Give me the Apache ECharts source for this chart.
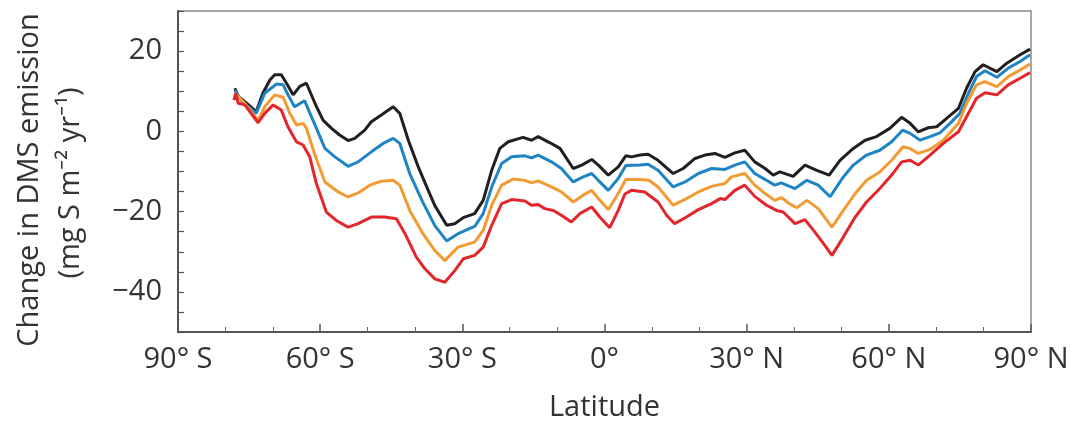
<!DOCTYPE html>
<html>
<head>
<meta charset="utf-8">
<script src="https://cdn.jsdelivr.net/npm/echarts@6/dist/echarts.min.js"></script>
<style>
  html, body { margin: 0; padding: 0; background: #fff; }
  #chart { width: 1071px; height: 422px; }
</style>
</head>
<body>
<div id="chart"></div>
<script>
// latitude (deg, negative = south) and change in DMS emission
const latBlack = [-78.0, -77.3, -75.9, -73.5, -72.1, -70.6, -69.6, -68.2, -67.1, -65.7, -64.3, -62.9, -61.1, -59.4, -57.6, -55.9, -54.1, -52.7, -50.6, -49.2, -47.1, -44.6, -43.2, -41.4, -39.3, -37.2, -35.8, -33.3, -31.6, -29.8, -27.4, -25.6, -23.8, -22.1, -20.3, -17.2, -15.4, -14.0, -11.5, -9.4, -6.6, -4.8, -2.7, -1.3, 0.8, 2.9, 4.5, 5.7, 7.5, 9.2, 11.3, 14.5, 16.6, 19.1, 21.2, 23.3, 25.4, 27.5, 29.6, 31.7, 33.9, 35.6, 37.0, 39.8, 42.3, 44.8, 47.4, 49.7, 52.5, 55.0, 57.4, 60.2, 62.7, 64.5, 66.2, 68.3, 70.1, 72.2, 74.7, 76.4, 78.2, 79.9, 82.8, 84.9, 87.7, 89.8]
const dmsBlack = [10.75, 8.7, 7.4, 4.9, 9.5, 12.8, 14.1, 14.1, 12, 9.1, 11.2, 12, 7, 2.8, 0.75, -0.9, -2.3, -1.75, 0.3, 2.4, 4.1, 6.15, 4.5, -2.2, -8.85, -14.7, -18.5, -23.4, -23, -21.5, -20.5, -17.2, -9.7, -4.25, -2.6, -1.5, -2.2, -1.3, -2.85, -4.25, -9.25, -8.4, -7, -8.4, -10.9, -8.85, -6.1, -6.35, -5.9, -5.7, -7.2, -10.5, -9.25, -6.75, -5.9, -5.5, -6.5, -5.35, -4.7, -7.6, -9.25, -10.9, -10.1, -11.2, -8.4, -9.7, -10.9, -7.2, -4.25, -2.2, -1.3, 0.75, 3.5, 2, -0.1, 0.9, 1.15, 3.25, 5.75, 10.75, 14.9, 16.6, 14.9, 17, 19.1, 20.5]

const latBlue = [-78.0, -76.5, -73.5, -71.7, -69.2, -67.8, -66.8, -65.4, -63.3, -61.1, -59.0, -56.9, -54.1, -52.0, -49.2, -46.7, -44.6, -43.2, -41.1, -38.4, -35.8, -33.3, -30.9, -27.4, -25.6, -23.8, -21.7, -19.6, -16.8, -15.4, -14.0, -11.2, -9.1, -6.6, -4.5, -2.7, -1.3, 0.8, 2.9, 4.5, 7.5, 9.2, 11.3, 14.5, 17.0, 19.8, 22.6, 25.4, 27.5, 29.6, 31.7, 34.2, 35.9, 37.3, 40.2, 42.7, 45.1, 47.6, 50.4, 52.5, 55.3, 58.1, 60.6, 62.9, 64.5, 66.6, 68.7, 70.8, 72.9, 75.0, 76.8, 78.5, 80.3, 82.8, 85.2, 87.7, 89.8]
const dmsBlue = [10.2, 7.5, 4.5, 9.5, 11.8, 11.6, 9.1, 6.15, 7.65, 1.6, -4.25, -6.35, -8.7, -7.6, -5.1, -3, -1.75, -3, -10.5, -17.5, -23.5, -27.3, -25.5, -23.7, -20.5, -13.85, -8, -6.35, -6.1, -6.6, -5.9, -7.6, -9.25, -12.6, -11.35, -10.5, -12.2, -14.7, -11.75, -8.5, -8.4, -8.2, -9.7, -13.85, -12.6, -10.5, -9.25, -9.5, -8.4, -7.6, -10.5, -12.2, -13.4, -12.85, -14.25, -12.2, -13.4, -16.3, -11.35, -8.4, -5.9, -4.7, -2.6, 0.3, -0.5, -2.2, -1.3, -0.35, 2, 4.5, 9.5, 13.65, 15.1, 13.5, 15.75, 17.4, 19.1]

const latOrange = [-78.0, -75.9, -73.1, -71.7, -69.6, -67.8, -66.4, -65.0, -63.6, -62.9, -61.1, -59.0, -56.2, -54.1, -52.0, -49.5, -47.1, -44.6, -43.2, -41.1, -38.3, -35.8, -33.7, -30.9, -27.4, -25.6, -23.8, -21.7, -19.3, -16.8, -15.4, -14.0, -11.2, -9.1, -6.6, -4.5, -2.7, -1.3, 0.8, 2.9, 4.5, 7.5, 9.4, 11.3, 14.5, 17.3, 19.8, 22.6, 25.4, 26.8, 29.6, 31.7, 33.9, 35.9, 37.3, 39.5, 40.6, 42.7, 45.1, 48.0, 50.4, 52.9, 55.3, 58.1, 60.6, 63.0, 64.5, 66.2, 68.7, 71.5, 74.7, 76.4, 78.5, 80.3, 82.8, 85.2, 87.7, 89.8]
const dmsOrange = [9.5, 7, 2.65, 6.15, 9.1, 8.5, 4.5, 1.6, 2, 0.75, -5.9, -12.6, -15.1, -16.35, -15.35, -13.4, -12.4, -12.2, -13.4, -19.7, -25.5, -29.7, -32.2, -28.85, -27.6, -24.7, -18.4, -13.4, -11.9, -12.2, -12.85, -12.35, -13.85, -15.1, -17.6, -15.9, -14.7, -16.75, -19.5, -15.5, -12, -12, -12.2, -13.85, -18.4, -16.75, -15.1, -13.7, -13, -11.35, -10.5, -13.4, -15.5, -17.2, -16.5, -18.4, -19, -17.2, -19.25, -23.85, -19.7, -15.5, -12.2, -10.1, -7.2, -3.85, -4.25, -5.5, -4.5, -2.2, 2, 7, 11.6, 12.4, 11.15, 13.65, 15.3, 16.8]

const latRed = [-78.2, -77.8, -77.3, -75.9, -73.1, -71.7, -69.9, -68.2, -66.8, -65.0, -63.6, -62.2, -60.8, -58.7, -56.6, -54.1, -52.0, -49.2, -46.4, -43.9, -42.1, -39.7, -37.9, -35.8, -33.7, -31.6, -29.8, -27.4, -25.6, -23.8, -21.7, -19.6, -16.8, -15.4, -14.0, -12.6, -10.8, -9.1, -7.0, -5.2, -2.7, -1.0, 1.1, 2.9, 4.3, 5.7, 8.5, 11.3, 13.1, 14.8, 17.3, 19.8, 22.6, 24.4, 25.4, 27.5, 29.6, 31.7, 34.2, 36.3, 37.7, 40.2, 42.3, 44.4, 46.5, 48.0, 50.4, 52.9, 55.3, 58.1, 60.6, 62.7, 64.5, 66.2, 68.7, 71.5, 74.7, 76.4, 78.5, 80.3, 82.8, 85.2, 87.7, 89.8]
const dmsRed = [7.8, 9.5, 7.0, 6.6, 2.15, 4.5, 6.6, 5.3, 1.15, -2.6, -3.4, -6.35, -13, -20.1, -22.2, -23.85, -23, -21.35, -21.35, -21.75, -25.5, -31.35, -34.25, -36.75, -37.6, -34.7, -31.75, -30.9, -28.85, -23.4, -18, -17, -17.35, -18.4, -18.2, -19.25, -19.7, -20.9, -22.6, -20.5, -18.85, -21.35, -24, -19.7, -15.6, -14.7, -15.1, -17.6, -20.9, -23, -21.35, -19.5, -18, -16.75, -17, -14.7, -13.4, -16.2, -18.4, -19.7, -20.1, -23, -22, -25.1, -28.4, -30.9, -26.35, -21.35, -17.6, -14.25, -10.9, -7.6, -7.2, -8.4, -5.9, -3, -0.1, 3.65, 8.25, 9.65, 9.1, 11.6, 13.25, 14.65]

const yLabelTicks = [-40, -20, 0, 20]

const FONT = '"Open Sans", "Noto Sans", sans-serif'
const TXT = '#333'
const FS = 29

function pairs(lats, vals) { return lats.map((l, i) => [l, vals[i]]) }

function latLabel(v) {
  if (v === 0) return '0°'
  return v < 0 ? `${-v}° S` : `${v}° N`
}

function line(name, color, lats, vals) {
  return {
    name, type: 'line', data: pairs(lats, vals),
    showSymbol: false, smooth: false, silent: true,
    lineStyle: { color, width: 3 }
  }
}

const chart = echarts.init(document.getElementById('chart'), null, { renderer: 'canvas' })
chart.setOption({
  animation: false,
  grid: {
    left: 178, right: 40, top: 11, bottom: 90,
    outerBoundsMode: 'none', containLabel: false,
    show: true, borderColor: '#8a8a8a', borderWidth: 1.5
  },
  xAxis: {
    type: 'value', min: -90, max: 90, interval: 30,
    name: 'Latitude', nameLocation: 'middle', nameGap: 61,
    nameTextStyle: { color: TXT, fontSize: FS, fontFamily: FONT },
    axisLine: { onZero: false, lineStyle: { color: '#555', width: 2 } },
    axisTick: { inside: true, length: 8, lineStyle: { color: '#555', width: 1.5 } },
    minorTick: { show: true, splitNumber: 3, length: 5, lineStyle: { color: '#666', width: 1 } },
    axisLabel: { color: TXT, fontSize: FS, fontFamily: FONT, margin: 13, formatter: latLabel },
    splitLine: { show: false }
  },
  yAxis: {
    type: 'value', min: -50, max: 30, interval: 5,
    axisLine: { show: true, onZero: false, lineStyle: { color: '#555', width: 2 } },
    axisTick: { inside: true, length: 6, lineStyle: { color: '#555', width: 1.2 } },
    axisLabel: {
      color: TXT, fontSize: FS, fontFamily: FONT, margin: 16,
      formatter: v => yLabelTicks.includes(v) ? (v < 0 ? '\u2212' + (-v) : String(v)) : ''
    },
    splitLine: { show: false }
  },
  graphic: [
    { type: 'text', x: 30, y: 180, rotation: Math.PI / 2,
      style: { text: 'Change in DMS emission', fill: TXT, font: `${FS}px ${FONT}`, textAlign: 'center', textVerticalAlign: 'middle' } },
    { type: 'text', x: 71, y: 183, rotation: Math.PI / 2,
      style: { text: '(mg S m\u207B\u00B2 yr\u207B\u00B9)', fill: TXT, font: `${FS}px ${FONT}`, textAlign: 'center', textVerticalAlign: 'middle' } }
  ],
  series: [
    line('black', '#231f20', latBlack, dmsBlack),
    line('blue', '#1f84c4', latBlue, dmsBlue),
    line('orange', '#f29b32', latOrange, dmsOrange),
    line('red', '#e1262c', latRed, dmsRed)
  ]
})
</script>
</body>
</html>
